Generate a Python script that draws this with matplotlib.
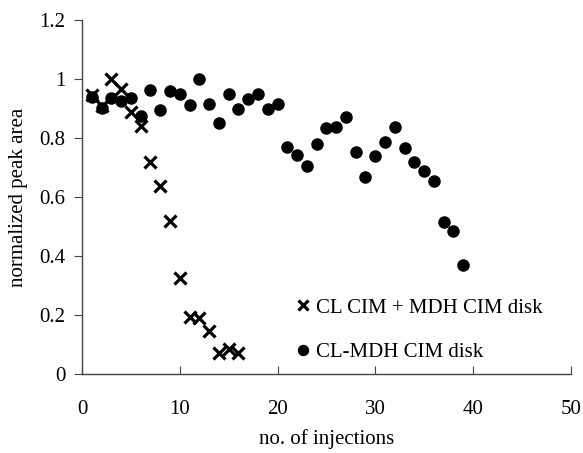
import matplotlib
matplotlib.use("Agg")
import matplotlib.pyplot as plt

# Injection numbers and normalized peak areas
inj_separate = list(range(1, 17))
area_separate = [0.946, 0.91, 1.0, 0.965, 0.887, 0.84, 0.72, 0.637,
                 0.52, 0.324, 0.194, 0.189, 0.147, 0.072, 0.085, 0.07]

inj_combined = list(range(1, 40))
area_combined = [0.938, 0.903, 0.937, 0.925, 0.934, 0.876, 0.963, 0.895,
                 0.959, 0.949, 0.912, 1.0, 0.914, 0.85, 0.949, 0.9,
                 0.931, 0.948, 0.9, 0.917, 0.768, 0.741, 0.705, 0.781,
                 0.835, 0.836, 0.87, 0.754, 0.667, 0.739, 0.785, 0.839,
                 0.765, 0.717, 0.688, 0.655, 0.515, 0.485, 0.371]

label_separate = "CL CIM + MDH CIM disk"
label_combined = "CL-MDH CIM disk"

plt.rcParams["font.family"] = ["Liberation Serif", "DejaVu Serif"]
plt.rcParams["font.size"] = 15

fig = plt.figure(figsize=(5.83, 4.53), dpi=100)
ax = fig.add_axes([0.1407, 0.1744, 0.8383, 0.7814])

ax.plot(inj_separate, area_separate, linestyle="none", marker="x",
        markersize=8, markeredgewidth=2.3, color="black", label=label_separate)
ax.plot(inj_combined, area_combined, linestyle="none", marker="o",
        markersize=8, color="black", label=label_combined)

ax.set_xlim(0, 50)
ax.set_ylim(0, 1.2)
ax.set_xticks([0, 10, 20, 30, 40, 50])
ax.set_yticks([0, 0.2, 0.4, 0.6, 0.8, 1.0, 1.2])
ax.set_yticklabels(["0", "0.2", "0.4", "0.6", "0.8", "1", "1.2"])
ax.spines["top"].set_visible(False)
ax.spines["right"].set_visible(False)
for s in ("left", "bottom"):
    ax.spines[s].set_color("#444444")
    ax.spines[s].set_linewidth(1.0)
ax.tick_params(axis="x", direction="in", length=6, pad=19, color="#444444")
ax.tick_params(axis="y", direction="out", length=6, pad=6, color="#444444")

ax.set_xlabel("no. of injections", labelpad=7)
ax.set_ylabel("normalized peak area", labelpad=8)

ax.legend(loc="center left", bbox_to_anchor=(0.4397, 0.124), frameon=False,
          handlelength=0.6, handletextpad=0.3, labelspacing=1.2,
          borderpad=0.0, borderaxespad=0.0, markerscale=0.9)

fig.savefig("out.png", dpi=100)
